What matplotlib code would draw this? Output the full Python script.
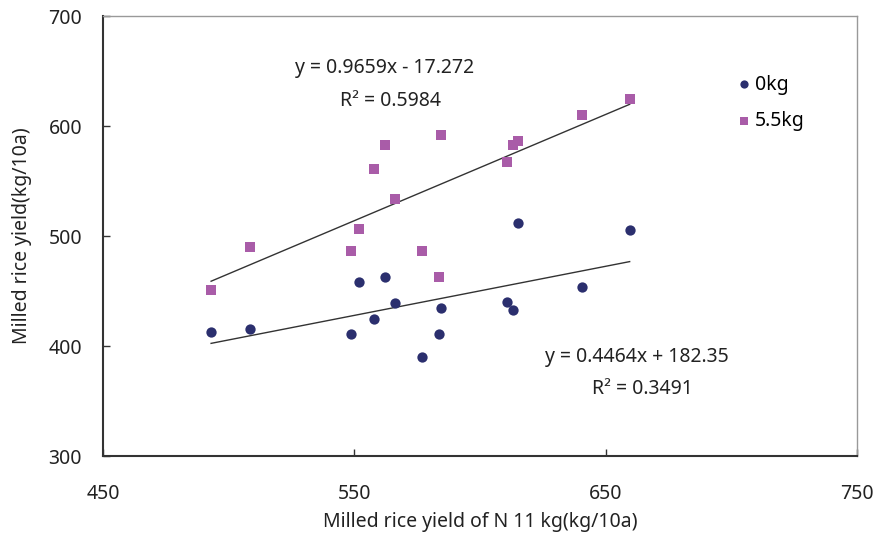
import numpy as np
import matplotlib
matplotlib.use('Agg')
from matplotlib import pyplot as plt

plt.rcParams['font.family'] = ['Noto Sans', 'DejaVu Sans']

# N 11 kg yield (shared x for both series)
x_n11 = [493.0, 508.6, 548.7, 552.0, 557.8, 562.3, 566.0, 576.9, 584.3, 583.8, 610.8, 612.9, 615.2, 640.7, 659.5]
y_0kg = [413.0, 415.7, 410.6, 457.9, 424.5, 462.7, 439.4, 389.7, 434.3, 410.6, 440.3, 433.0, 512.1, 453.9, 505.7]
y_55kg = [450.6, 490.3, 486.4, 506.1, 560.6, 583.0, 533.4, 486.4, 591.5, 462.7, 566.9, 583.0, 586.7, 610.3, 624.8]

# trendline coefficients as printed on chart
fit_0kg = (0.4464, 182.35)
fit_55kg = (0.9659, -17.272)

x_ticks = [450, 550, 650, 750]
y_ticks = [300, 400, 500, 600, 700]

txt = '#222222'
fs = 14

fig = plt.figure(figsize=(8.78, 5.34), dpi=100)
ax = fig.add_axes([0.1173, 0.146, 0.859, 0.824])

ax.scatter(x_n11, y_0kg, marker='o', s=55, color='#2b2f6e', label='0kg', zorder=3, linewidths=0)
ax.scatter(x_n11, y_55kg, marker='s', s=55, color='#a95ca8', label='5.5kg', zorder=3, linewidths=0)

xs = np.array([min(x_n11), max(x_n11)])
for a, b in (fit_0kg, fit_55kg):
    ax.plot(xs, a * xs + b, color='#333333', lw=1.0, zorder=2)

ax.text(562, 653, 'y = 0.9659x - 17.272', ha='center', va='center', fontsize=fs, color=txt)
ax.text(564.5, 623, 'R² = 0.5984', ha='center', va='center', fontsize=fs, color=txt)
ax.text(662.5, 390, 'y = 0.4464x + 182.35', ha='center', va='center', fontsize=fs, color=txt)
ax.text(664.5, 361, 'R² = 0.3491', ha='center', va='center', fontsize=fs, color=txt)

ax.set_xlim(450, 750)
ax.set_ylim(300, 700)
ax.set_xticks(x_ticks)
ax.set_yticks(y_ticks)
ax.tick_params(direction='in', length=5, width=1, labelsize=fs, colors='#333333', labelcolor=txt)
ax.tick_params(axis='y', pad=15)
ax.tick_params(axis='x', pad=20)

for s in ('left', 'bottom'):
    ax.spines[s].set_color('#333333')
    ax.spines[s].set_linewidth(1.5)
for s in ('top', 'right'):
    ax.spines[s].set_color('#999999')
    ax.spines[s].set_linewidth(1.0)

ax.set_xlabel('Milled rice yield of N 11 kg(kg/10a)', fontsize=fs, color=txt, labelpad=6)
ax.set_ylabel('Milled rice yield(kg/10a)', fontsize=fs, color=txt, labelpad=12)

ax.legend(loc='upper left', bbox_to_anchor=(0.840, 0.867), frameon=False, fontsize=fs,
          handlelength=0.8, handletextpad=0.15, labelspacing=0.85, markerscale=0.8,
          borderaxespad=0, borderpad=0)

fig.savefig('out.png', dpi=100)
